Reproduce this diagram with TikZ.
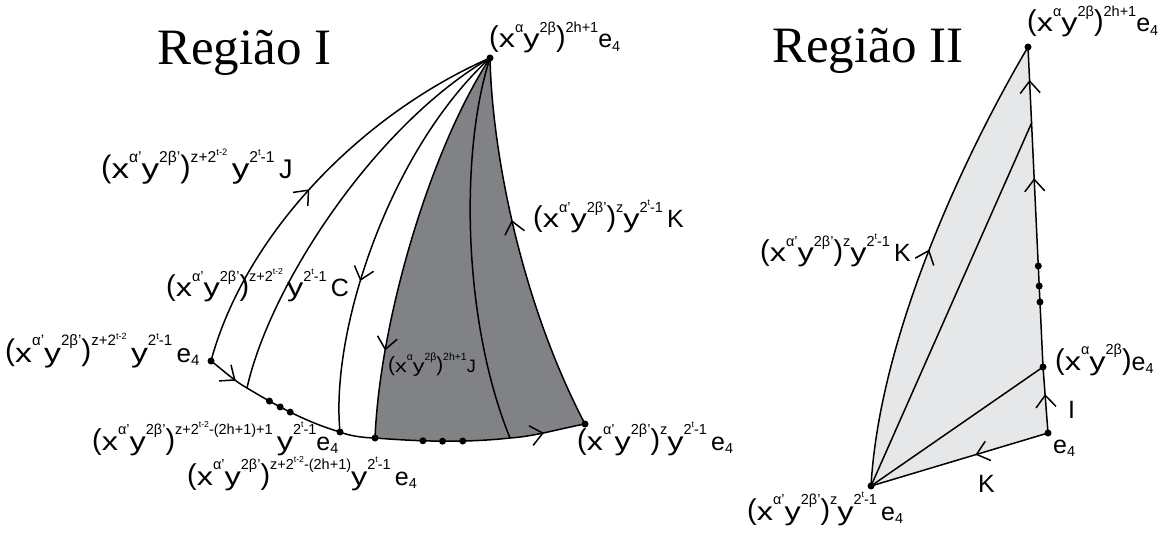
\documentclass[tikz,border=0pt]{standalone}
\usepackage{fontspec}
\setmainfont{Liberation Sans}
\newfontfamily\titlefont{Liberation Serif}
\usepackage{graphicx}
\usetikzlibrary{arrows.meta,decorations.markings}

\newcommand\Sup[1]{\raisebox{0.62em}{\scalebox{0.58}{#1}}}
\newcommand\SSup[1]{\raisebox{0.45em}{\scalebox{0.6}{#1}}}
\newcommand\Sub[1]{\raisebox{-0.14em}{\scalebox{0.58}{#1}}}
\newcommand\ParL{\raisebox{0.04em}{\scalebox{1.15}{(}}}
\newcommand\ParR{\raisebox{0.04em}{\scalebox{1.15}{)}}}
\newcommand\vx{\scalebox{1.3}[1.03]{x}}
\newcommand\vy{\scalebox{1.3}[1.03]{y}}
\newcommand\xab{\ParL\vx\Sup{α'}\vy\Sup{2β'}\ParR}
\newcommand\xa{\ParL\vx\Sup{α}\vy\Sup{2β}\ParR}
\newcommand\yexp{\vy\Sup{2\SSup{t}-1}}

\definecolor{darkfill}{RGB}{128,130,133}
\definecolor{lightfill}{RGB}{230,231,232}

\tikzset{
  edge/.style={line width=1.5pt, line cap=round},
  dotn/.style={circle, fill=black, inner sep=0pt, minimum size=7pt},
  lab/.style={anchor=base west, inner sep=0pt, font=\fontsize{25}{28}\selectfont},
  biglab/.style={anchor=base west, inner sep=0pt, font=\fontsize{27}{30}\selectfont},
  midlab/.style={anchor=base west, inner sep=0pt, font=\fontsize{26}{29}\selectfont},
  smalllab/.style={anchor=base west, inner sep=0pt, font=\fontsize{18}{20}\selectfont},
  titlelab/.style={anchor=base west, inner sep=0pt, font=\titlefont\fontsize{51}{56}\selectfont},
  barb/.tip={Straight Barb[length=12pt,width=20pt,line width=1.5pt]},
  fwd/.style={postaction={decorate}, decoration={markings, mark=at position #1 with {\arrow{barb}}}},
  bwd/.style={postaction={decorate}, decoration={markings, mark=at position #1 with {\arrowreversed{barb}}}},
}

\begin{document}
\begin{tikzpicture}[x=1pt,y=-1pt]
\useasboundingbox (0,0) rectangle (1167,537);

% ---------------- Region I ----------------
\coordinate (T1) at (490,58);
\coordinate (P0) at (211,361);
\coordinate (P1) at (247,388);
\coordinate (P2) at (340,432);
\coordinate (P3) at (375,438);
\coordinate (P4) at (510,438);
\coordinate (P5) at (585,424);

\fill[darkfill] (P3) .. controls (380,320) and (430,150) .. (T1)
  .. controls (492,150) and (520,300) .. (P5)
  .. controls (560,428.6) and (535.3,436.3) .. (P4)
  .. controls (465,443) and (420,441.5) .. (P3) -- cycle;

% curves to top vertex
\draw[edge, fwd=0.47] (P0) .. controls (245,235) and (360,115) .. (T1);
\draw[edge] (P1) .. controls (270,285) and (375,125) .. (T1);
\draw[edge, bwd=0.37] (P2) .. controls (330,330) and (390,150) .. (T1);
\draw[edge, bwd=0.22] (P3) .. controls (380,320) and (430,150) .. (T1);
\draw[edge] (P4) .. controls (462,320) and (460,150) .. (T1);
\draw[edge, fwd=0.57] (P5) .. controls (520,300) and (492,150) .. (T1);

% bottom arc
\draw[edge, fwd=0.7] (P0) .. controls (223,370) and (233.9,380.8) .. (P1);
\draw[edge] (P1) .. controls (277,406) and (306,422) .. (P2)
  node[dotn, pos=0.25] (d1) {} node[dotn, pos=0.37] (d2) {} node[dotn, pos=0.48] (d3) {};
\draw[edge] (P2) .. controls (351,436.3) and (363.2,437.6) .. (P3);
\draw[edge] (P3) .. controls (420,441.5) and (465,443) .. (P4)
  node[dotn, pos=0.355] (d4) {} node[dotn, pos=0.5] (d5) {} node[dotn, pos=0.65] (d6) {};
\draw[edge, fwd=0.45] (P4) .. controls (535.3,436.3) and (560,428.6) .. (P5);

\node[dotn] (nT1) at (T1) {};
\node[dotn] (nP0) at (P0) {};
\node[dotn] (nP2) at (P2) {};
\node[dotn] (nP3) at (P3) {};
\node[dotn] (nP5) at (P5) {};

\node[titlelab] (title1) at (157,65) {Região I};
\node[lab] (lT1) at (489,48) {\xa\Sup{2h+1}e\Sub{4}};
\node[biglab] (lJ) at (101,179) {\xab\Sup{z+2\SSup{t-2}}\,\yexp\,J};
\node[lab] (lC) at (166,297) {\xab\Sup{z+2\SSup{t-2}}\,\yexp\,C};
\node[midlab] (lL) at (5,362) {\xab\Sup{z+2\SSup{t-2}}\,\yexp\,e\Sub{4}};
\node[lab] (lb1) at (92,450) {\xab\Sup{z+2\SSup{t-2}-(2h+1)+1}\,\yexp e\Sub{4}};
\node[lab] (lb2) at (187,485) {\xab\Sup{z+2\SSup{t-2}-(2h+1)}\yexp\,e\Sub{4}};
\node[lab] (lR) at (577,450) {\xab\Sup{z}\yexp\,e\Sub{4}};
\node[lab] (lK) at (533,228) {\xab\Sup{z}\yexp\,K};
\node[smalllab] (lin) at (388,372) {\xa\Sup{2h+1}J};

% ---------------- Region II ----------------
\coordinate (B) at (871,486);
\coordinate (T2) at (1028,47);
\coordinate (W) at (1031.6,123);
\coordinate (V) at (1043,367);
\coordinate (E) at (1048,433);

\fill[lightfill] (B) .. controls (880,330) and (970,145) .. (T2) -- (V) -- (E) -- cycle;

\draw[edge, fwd=0.52] (B) .. controls (880,330) and (970,145) .. (T2);
\draw[edge] (B) -- (W);
\draw[edge] (B) -- (V);
\draw[edge, fwd=0.41] (E) -- (B);
\draw[edge, fwd=0.59] (E) -- (V);
\draw[edge, postaction={decorate}, decoration={markings,
   mark=at position 0.59 with {\arrow{barb}},
   mark=at position 0.897 with {\arrow{barb}}}] (V) -- (T2);

\node[dotn] (nT2) at (T2) {};
\node[dotn] (nV) at (V) {};
\node[dotn] (nE) at (E) {};
\node[dotn] (nB) at (B) {};
\node[dotn] (d7) at (1038.3,266) {};
\node[dotn] (d8) at (1039.2,286) {};
\node[dotn] (d9) at (1040,302) {};

\node[titlelab] (title2) at (772,63) {Região II};
\node[lab] (lT2) at (1027,32) {\xa\Sup{2h+1}e\Sub{4}};
\node[lab] (lV) at (1055,370) {\xa e\Sub{4}};
\node[lab] (lI) at (1068,418) {I};
\node[lab] (lE) at (1053,453) {e\Sub{4}};
\node[lab] (lKK) at (978,492) {K};
\node[lab] (lB) at (747,520) {\xab\Sup{z}\yexp\,e\Sub{4}};
\node[lab] (lK2) at (760,262) {\xab\Sup{z}\yexp\,K};
\end{tikzpicture}
\end{document}
